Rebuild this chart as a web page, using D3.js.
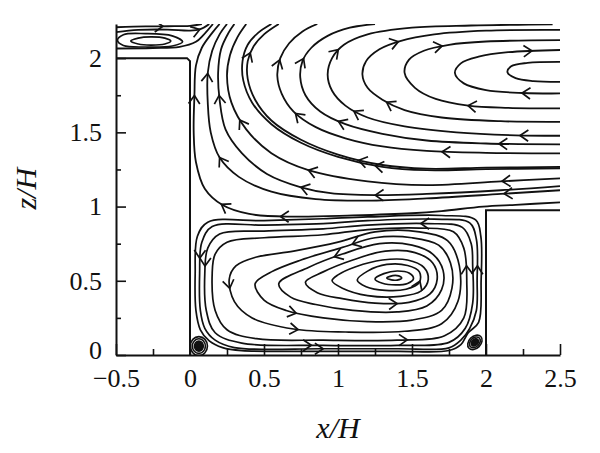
<!DOCTYPE html>
<html>
<head>
<meta charset="utf-8">
<script src="https://cdn.jsdelivr.net/npm/d3@7"></script>
<style>
  body { margin: 0; background: #fff; }
  svg { display: block; }
</style>
</head>
<body>
<div id="chart"></div>
<script>
// streamlines over a cavity between two steps, x/H - z/H

// tick values
var xMajor = [-0.5, 0, 0.5, 1, 1.5, 2, 2.5];
var xMinor = [-0.25, 0.25, 0.75, 1.25, 1.75, 2.25];
var yMajor = [0, 0.5, 1, 1.5, 2];
var yMinor = [0.25, 0.75, 1.25, 1.75];

// solid walls
var stepWall = [[-0.5, 2], [-0.02, 2], [0, 1.98], [0, 0]];
var blockWall = [[2, 0], [2, 0.975], [2.5, 0.975]];

// open streamlines above the cavity (points in flow order)
var upperLines = [
  {id: 'c1', pts: [[2.5,1.84],[2.32,1.845],[2.2,1.865],[2.145,1.905],[2.17,1.945],[2.28,1.968],[2.5,1.975]]},
  {id: 'c2', pts: [[2.5,1.762],[2.25,1.765],[2.0,1.785],[1.85,1.83],[1.79,1.9],[1.83,1.965],[1.95,2.01],[2.15,2.04],[2.5,2.055]]},
  {id: 'c3', pts: [[2.5,1.661],[2.15,1.665],[1.88,1.68],[1.66,1.725],[1.52,1.8],[1.45,1.9],[1.48,1.99],[1.58,2.05],[1.75,2.09],[2.0,2.112],[2.5,2.121]]},
  {id: 'c4', pts: [[2.5,1.571],[2.1,1.575],[1.7,1.6],[1.45,1.65],[1.3,1.72],[1.2,1.8],[1.165,1.89],[1.19,1.98],[1.28,2.06],[1.42,2.115],[1.65,2.16],[2.0,2.185],[2.5,2.19]]},
  {id: 'c5', pts: [[2.5,1.477],[2.2,1.48],[1.8,1.5],[1.45,1.54],[1.2,1.6],[1.05,1.68],[0.96,1.78],[0.93,1.89],[0.96,2.0],[1.04,2.09],[1.2,2.16],[1.5,2.205],[1.9,2.22],[2.45,2.228]]},
  {id: 'c6', pts: [[2.5,1.419],[2.0,1.425],[1.6,1.445],[1.3,1.49],[1.05,1.555],[0.88,1.64],[0.78,1.75],[0.745,1.87],[0.76,1.98],[0.82,2.07],[0.93,2.15],[1.08,2.205],[1.25,2.23]]},
  {id: 'c7', pts: [[2.5,1.358],[2.0,1.362],[1.6,1.375],[1.3,1.405],[1.05,1.46],[0.85,1.535],[0.7,1.64],[0.62,1.76],[0.59,1.88],[0.61,2.0],[0.67,2.1],[0.76,2.18],[0.86,2.23]]},
  {id: 'c8', pts: [[2.5,1.268],[2.0,1.262],[1.6,1.255],[1.3,1.28],[1.0,1.35],[0.75,1.45],[0.55,1.58],[0.44,1.72],[0.39,1.86],[0.39,1.98],[0.43,2.08],[0.5,2.16],[0.6,2.23]]},
  {id: 'c8b', pts: [[2.5,1.258],[2.0,1.252],[1.6,1.245],[1.3,1.268],[1.0,1.335],[0.75,1.43],[0.55,1.555],[0.42,1.7],[0.36,1.85],[0.355,1.98],[0.39,2.09],[0.46,2.17],[0.55,2.23]]},
  {id: 'e1', pts: [[2.5,1.19],[2.1,1.17],[1.6,1.145],[1.2,1.17],[0.8,1.246],[0.55,1.36],[0.38,1.52],[0.28,1.7],[0.25,1.88],[0.27,2.02],[0.32,2.14],[0.38,2.23]]},
  {id: 'e2', pts: [[2.5,1.138],[2.1,1.11],[1.6,1.085],[1.25,1.077],[0.95,1.09],[0.75,1.13],[0.52,1.22],[0.35,1.36],[0.24,1.52],[0.2,1.72],[0.19,1.9],[0.21,2.06],[0.26,2.17],[0.3,2.23]]},
  {id: 'e3', pts: [[2.5,1.11],[2.1,1.085],[1.6,1.055],[1.2,1.04],[0.85,1.05],[0.55,1.1],[0.33,1.2],[0.2,1.33],[0.14,1.5],[0.12,1.7],[0.12,1.9],[0.15,2.05],[0.2,2.16],[0.25,2.23]]},
  {id: 'e4', pts: [[2.5,1.028],[2.2,1.012],[1.98,1.0],[1.7,0.97],[1.5,0.955],[1.1,0.94],[0.7,0.932],[0.4,0.95],[0.22,1.01],[0.1,1.12],[0.04,1.3],[0.025,1.5],[0.03,1.75],[0.04,1.95],[0.08,2.07],[0.15,2.17],[0.2,2.23]]},
  {id: 't1', pts: [[-0.5,2.208],[-0.3,2.214],[-0.15,2.215],[0,2.218],[0.08,2.23]]},
  {id: 't2', pts: [[-0.5,2.175],[-0.35,2.19],[-0.15,2.192],[0,2.185],[0.07,2.195],[0.13,2.23]]},
  {id: 't3', pts: [[-0.5,2.065],[-0.25,2.068],[-0.07,2.076],[0.04,2.11],[0.09,2.155],[0.155,2.23]]}
];

// closed streamlines (counter-clockwise in the cavity)
var closedLines = [
  {id: 'r1', pts: [[-0.4,2.115],[-0.35,2.095],[-0.265,2.088],[-0.17,2.095],[-0.13,2.115],[-0.17,2.135],[-0.265,2.143],[-0.35,2.135]]},
  {id: 'r2', pts: [[-0.49,2.12],[-0.45,2.085],[-0.3,2.075],[-0.12,2.082],[-0.05,2.11],[-0.12,2.15],[-0.3,2.165],[-0.45,2.158]]},
  {id: 'L1', pts: [[1.33,0.518],[1.36,0.506],[1.40,0.505],[1.43,0.518],[1.41,0.533],[1.37,0.535]]},
  {id: 'L2', pts: [[1.25,0.512],[1.3,0.483],[1.39,0.472],[1.47,0.482],[1.51,0.515],[1.48,0.552],[1.40,0.566],[1.31,0.548]]},
  {id: 'L3', pts: [[1.13,0.505],[1.19,0.46],[1.32,0.435],[1.46,0.443],[1.55,0.49],[1.55,0.56],[1.47,0.603],[1.33,0.61],[1.2,0.565]]},
  {id: 'L4', pts: [[0.96,0.5],[1.03,0.45],[1.2,0.4],[1.42,0.395],[1.56,0.43],[1.61,0.51],[1.58,0.59],[1.47,0.64],[1.3,0.64],[1.12,0.595],[1.0,0.54]]},
  {id: 'L5', pts: [[0.78,0.49],[0.86,0.42],[1.03,0.38],[1.25,0.35],[1.48,0.355],[1.62,0.41],[1.67,0.51],[1.64,0.62],[1.52,0.69],[1.32,0.7],[1.1,0.64],[0.9,0.56]]},
  {id: 'L6', pts: [[0.6,0.48],[0.68,0.39],[0.85,0.34],[1.1,0.3],[1.4,0.29],[1.6,0.33],[1.7,0.44],[1.71,0.57],[1.64,0.68],[1.5,0.74],[1.28,0.75],[1.03,0.68],[0.8,0.59]]},
  {id: 'L7', pts: [[0.44,0.48],[0.5,0.37],[0.65,0.3],[0.9,0.25],[1.2,0.225],[1.5,0.235],[1.7,0.3],[1.77,0.45],[1.76,0.62],[1.68,0.74],[1.5,0.79],[1.25,0.79],[1.03,0.725],[0.75,0.64],[0.55,0.56]]},
  {id: 'L8', pts: [[0.265,0.51],[0.3,0.36],[0.42,0.25],[0.7,0.175],[1.05,0.155],[1.45,0.16],[1.7,0.21],[1.81,0.36],[1.82,0.6],[1.74,0.77],[1.55,0.83],[1.25,0.83],[1.0,0.76],[0.7,0.7],[0.45,0.66],[0.31,0.6]]},
  {id: 'W1', pts: [[0.15,0.55],[0.17,0.3],[0.25,0.17],[0.45,0.11],[0.9,0.1],[1.4,0.1],[1.72,0.13],[1.85,0.25],[1.87,0.5],[1.85,0.72],[1.78,0.83],[1.55,0.855],[1.2,0.845],[0.9,0.81],[0.5,0.79],[0.25,0.76],[0.17,0.68]]},
  {id: 'W2', pts: [[0.1,0.55],[0.11,0.3],[0.17,0.15],[0.35,0.08],[0.9,0.065],[1.4,0.065],[1.75,0.085],[1.86,0.18],[1.91,0.35],[1.91,0.6],[1.9,0.75],[1.84,0.86],[1.6,0.885],[1.2,0.875],[0.9,0.85],[0.5,0.835],[0.2,0.815],[0.12,0.72]]},
  {id: 'W3', pts: [[0.065,0.55],[0.07,0.3],[0.1,0.18],[0.17,0.1],[0.3,0.05],[0.9,0.042],[1.4,0.042],[1.75,0.048],[1.83,0.1],[1.89,0.18],[1.935,0.3],[1.94,0.5],[1.935,0.78],[1.89,0.89],[1.65,0.915],[1.2,0.905],[0.9,0.885],[0.5,0.875],[0.15,0.865],[0.08,0.76]]},
  {id: 'W4', pts: [[0.035,0.55],[0.04,0.3],[0.07,0.17],[0.13,0.095],[0.22,0.05],[0.35,0.03],[0.9,0.025],[1.4,0.025],[1.75,0.03],[1.83,0.07],[1.88,0.15],[1.95,0.22],[1.967,0.5],[1.965,0.8],[1.93,0.91],[1.7,0.94],[1.2,0.93],[0.9,0.918],[0.5,0.905],[0.12,0.895],[0.05,0.8]]}
];

// small corner eddies: centre and nested radii (data units)
var eddies = [
  {cx: 0.06, cy: 0.06, radii: [[0.058,0.064],[0.044,0.049],[0.03,0.034],[0.016,0.019]], tilt: 0},
  {cx: 1.925, cy: 0.085, radii: [[0.056,0.04],[0.042,0.03],[0.028,0.02],[0.014,0.01]], tilt: -45}
];

// arrow heads: line id and a point near where the head sits
var arrows = [
  ['c2',2.24,1.765],['c2',2.31,2.05],
  ['c3',1.88,1.68],['c3',1.70,2.085],
  ['c4',1.33,1.706],['c4',1.41,2.11],
  ['c5',2.23,1.48],['c5',1.1,1.63],['c5',1.0,2.06],
  ['c6',2.09,1.425],['c6',1.0,1.57],['c6',0.76,2.0],
  ['c7',1.70,1.37],['c7',0.72,1.63],['c7',0.6,1.99],
  ['c8',1.14,1.3],['c8',0.40,2.04],['c8b',1.25,1.27],
  ['e1',2.11,1.165],['e1',0.8,1.246],['e1',0.36,1.6],
  ['e2',1.25,1.077],['e2',0.75,1.13],['e2',0.2,1.75],
  ['e3',2.12,1.087],['e3',0.12,1.9],['e3',0.2,1.33],
  ['e4',0.61,0.93],['e4',0.21,1.01],['e4',0.03,1.75],
  ['t1',-0.18,2.215],['t2',0.07,2.19],
  ['L8',0.27,0.45],['L8',0.73,0.17],
  ['L7',0.72,0.28],['L7',1.1,0.745],
  ['L6',0.97,0.67],['L5',1.4,0.35],['L3',1.55,0.5],
  ['W2',0.1,0.6],['W3',0.065,0.65],
  ['W2',0.82,0.065],['W3',0.9,0.042],['W1',1.47,0.1],
  ['W1',1.87,0.6],['W3',1.94,0.6],['W2',1.56,0.885]
];

var w = 600, h = 453;
var xs = d3.scaleLinear().domain([-0.5, 2.5]).range([116, 560]);
var ys = d3.scaleLinear().domain([0, 2.23]).range([355, 24]);

var ink = '#111';
var svg = d3.select('#chart').append('svg').attr('width', w).attr('height', h);

svg.append('defs').append('clipPath').attr('id', 'plotclip')
  .append('rect')
  .attr('x', xs(-0.5)).attr('y', ys(2.23))
  .attr('width', xs(2.5) - xs(-0.5)).attr('height', ys(0) - ys(2.23));

var plot = svg.append('g').attr('clip-path', 'url(#plotclip)');

var openLine = d3.line().x(function(d){ return xs(d[0]); }).y(function(d){ return ys(d[1]); })
  .curve(d3.curveCatmullRom.alpha(0.5));
var loopLine = d3.line().x(function(d){ return xs(d[0]); }).y(function(d){ return ys(d[1]); })
  .curve(d3.curveCatmullRomClosed.alpha(0.5));
var wallLine = d3.line().x(function(d){ return xs(d[0]); }).y(function(d){ return ys(d[1]); });

//streamlines
var pathById = {};
upperLines.forEach(function(s){
  var p = plot.append('path')
    .attr('d', openLine(s.pts))
    .attr('fill', 'none').attr('stroke', ink).attr('stroke-width', 1.8);
  pathById[s.id] = p.node();
});
closedLines.forEach(function(s){
  var p = plot.append('path')
    .attr('d', loopLine(s.pts))
    .attr('fill', 'none').attr('stroke', ink).attr('stroke-width', 1.7);
  pathById[s.id] = p.node();
});

//corner eddies
eddies.forEach(function(e){
  var g = plot.append('g')
    .attr('transform', 'translate(' + xs(e.cx) + ',' + ys(e.cy) + ') rotate(' + e.tilt + ')');
  e.radii.forEach(function(r, i){
    g.append('ellipse')
      .attr('rx', xs(r[0]) - xs(0)).attr('ry', ys(0) - ys(r[1]))
      .attr('fill', i >= e.radii.length - 2 ? ink : 'none')
      .attr('stroke', ink).attr('stroke-width', 1.6);
  });
});

//arrow heads, snapped onto their streamline
arrows.forEach(function(a){
  var node = pathById[a[0]];
  var L = node.getTotalLength();
  var tx = xs(a[1]), ty = ys(a[2]);
  var best = 0, bestD = Infinity;
  for (var s = 0; s <= L; s += 1) {
    var q = node.getPointAtLength(s);
    var dd = (q.x - tx) * (q.x - tx) + (q.y - ty) * (q.y - ty);
    if (dd < bestD) { bestD = dd; best = s; }
  }
  var p0 = node.getPointAtLength(Math.max(0, best - 2));
  var p1 = node.getPointAtLength(Math.min(L, best + 2));
  var tip = node.getPointAtLength(best);
  var ang = Math.atan2(p1.y - p0.y, p1.x - p0.x);
  var len = 10, spread = 0.6;
  var a1 = [tip.x - len * Math.cos(ang - spread), tip.y - len * Math.sin(ang - spread)];
  var a2 = [tip.x - len * Math.cos(ang + spread), tip.y - len * Math.sin(ang + spread)];
  plot.append('path')
    .attr('d', 'M' + a1[0] + ',' + a1[1] + 'L' + tip.x + ',' + tip.y + 'L' + a2[0] + ',' + a2[1])
    .attr('fill', 'none').attr('stroke', ink).attr('stroke-width', 1.7);
});

//walls
svg.append('path').attr('d', wallLine(stepWall))
  .attr('fill', 'none').attr('stroke', ink).attr('stroke-width', 2);
svg.append('path').attr('d', wallLine(blockWall))
  .attr('fill', 'none').attr('stroke', ink).attr('stroke-width', 2);

//axes
var fmt = d3.format('~g');
var gxMinor = svg.append('g').attr('transform', 'translate(0,' + ys(0) + ')')
  .call(d3.axisBottom(xs).tickValues(xMinor).tickSize(-6).tickFormat(''));
gxMinor.select('.domain').remove();
var gx = svg.append('g').attr('transform', 'translate(0,' + ys(0) + ')')
  .call(d3.axisBottom(xs).tickValues(xMajor).tickSizeInner(-11).tickSizeOuter(0).tickPadding(14).tickFormat(fmt));

var gyMinor = svg.append('g').attr('transform', 'translate(' + xs(-0.5) + ',0)')
  .call(d3.axisLeft(ys).tickValues(yMinor).tickSize(-5).tickFormat(''));
gyMinor.select('.domain').remove();
var gy = svg.append('g').attr('transform', 'translate(' + xs(-0.5) + ',0)')
  .call(d3.axisLeft(ys).tickValues(yMajor).tickSizeInner(-10).tickSizeOuter(0).tickPadding(14).tickFormat(fmt));

[gx, gy, gxMinor, gyMinor].forEach(function(g){
  g.selectAll('.domain').attr('stroke', ink).attr('stroke-width', 2);
  g.selectAll('.tick line').attr('stroke', ink).attr('stroke-width', 1.6);
  g.selectAll('.tick text')
    .attr('fill', ink)
    .style('font-family', '"Liberation Serif", "DejaVu Serif", serif')
    .style('font-size', '26px');
});
// lift the 0 on the z axis a little, as in the original
gy.selectAll('.tick text').filter(function(d){ return d === 0; }).attr('dy', '0.12em');

//axis titles
svg.append('text')
  .attr('x', xs(1)).attr('y', 438)
  .attr('text-anchor', 'middle')
  .style('font-family', '"Liberation Serif", serif')
  .style('font-style', 'italic')
  .style('font-size', '30px')
  .attr('fill', ink)
  .text('x/H');
svg.append('text')
  .attr('transform', 'translate(36,' + ys(1.12) + ') rotate(-90)')
  .attr('text-anchor', 'middle')
  .style('font-family', '"Liberation Serif", serif')
  .style('font-style', 'italic')
  .style('font-size', '30px')
  .attr('fill', ink)
  .text('z/H');
</script>
</body>
</html>
